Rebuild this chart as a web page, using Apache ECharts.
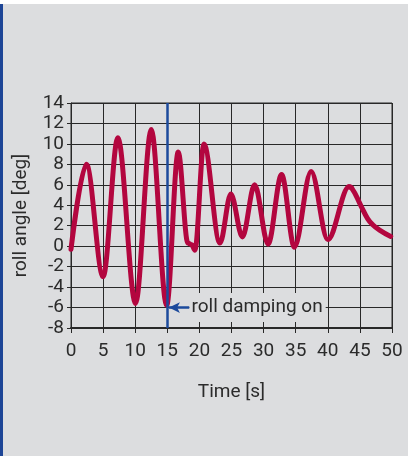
<!DOCTYPE html>
<html>
<head>
<meta charset="utf-8">
<script src="https://cdn.jsdelivr.net/npm/echarts@6/dist/echarts.min.js"></script>
<style>
  html, body { margin: 0; padding: 0; background: #ffffff; width: 409px; height: 456px; overflow: hidden; }
  #panel { position: absolute; left: 0; top: 4px; width: 405px; height: 452px; background: #dcdddf; border-left: 3px solid #1d4596; }
  #chart { position: absolute; left: 0; top: 0; width: 409px; height: 456px; }
</style>
</head>
<body>
<div id="panel"></div>
<div id="chart"></div>
<script>
// Data
// oscillating part: turning points of the roll trace
const timeS   = [0, 2.4, 5.0, 7.3, 10.05, 12.5, 14.9, 16.7, 18.2, 18.8, 19.3, 20.7, 23.2, 24.9, 26.7, 28.6, 30.7, 32.8, 34.8, 37.4, 40.0, 43.3, 43.7];
const rollDeg = [-0.3, 8.0, -3.0, 10.6, -5.6, 11.4, -5.8, 9.2, 0.3, 0.15, -0.4, 10.0, 0.3, 5.1, 0.9, 6.0, 0.2, 7.0, -0.1, 7.3, 0.65, 5.8, 5.7];
// decaying tail after the last peak
const tailTimeS   = [43.3, 43.7, 45.2, 46.2, 47.0, 48.0, 49.8];
const tailRollDeg = [5.8, 5.7, 3.9, 2.7, 2.1, 1.6, 0.95];
const xTicks = { min: 0, max: 50, step: 5 };
const yTicks = { min: -8, max: 14, step: 2 };
const dampingOnTime = 15;
const annotation = { text: 'roll damping on', y: -6, fromX: 18.45, toX: 15.25 };

const FONT = 'Roboto';
const TXT = '#2b2b2b';
const GRIDC = '#282828';
const CURVE = '#b3063f';

const chart = echarts.init(document.getElementById('chart'), null, { renderer: 'canvas' });
chart.setOption({
  backgroundColor: 'transparent',
  animation: false,
  grid: { left: 71, top: 103, width: 321, height: 225, show: true, borderColor: GRIDC, borderWidth: 1 },
  xAxis: {
    type: 'value', min: xTicks.min, max: xTicks.max, interval: xTicks.step,
    name: 'Time [s]', nameLocation: 'middle', nameGap: 55,
    nameTextStyle: { fontFamily: FONT, fontSize: 19, color: TXT },
    axisLine: { show: true, onZero: false, lineStyle: { color: GRIDC, width: 2 } },
    axisTick: { show: true, inside: false, length: 5, lineStyle: { color: GRIDC, width: 1 } },
    axisLabel: { margin: 14, fontFamily: FONT, fontSize: 19, color: TXT },
    splitLine: { show: true, lineStyle: { color: GRIDC, width: 1 } }
  },
  yAxis: {
    type: 'value', min: yTicks.min, max: yTicks.max, interval: yTicks.step,
    name: 'roll angle [deg]', nameLocation: 'middle', nameGap: 40,
    nameTextStyle: { fontFamily: FONT, fontSize: 19, color: TXT },
    axisLine: { show: true, lineStyle: { color: GRIDC, width: 1 } },
    axisTick: { show: true, inside: false, length: 4, lineStyle: { color: GRIDC, width: 1 } },
    axisLabel: { margin: 7, fontFamily: FONT, fontSize: 19, color: TXT },
    splitLine: { show: true, lineStyle: { color: GRIDC, width: 1 } }
  },
  series: [{
    type: 'line',
    data: timeS.map((t, i) => [t, rollDeg[i]]),
    smooth: 0.34,
    smoothMonotone: 'x',
    showSymbol: false,
    lineStyle: { color: CURVE, width: 5, cap: 'round', join: 'round' },
    z: 3,
    markLine: {
      silent: true,
      animation: false,
      label: { show: false },
      data: [
        [ { coord: [dampingOnTime, yTicks.min], symbol: 'none' }, { coord: [dampingOnTime, yTicks.max], symbol: 'none' } ],
        [ { coord: [annotation.fromX, annotation.y], symbol: 'none' }, { coord: [annotation.toX, annotation.y], symbol: 'arrow', symbolSize: [8, 11] } ]
      ],
      lineStyle: { color: '#1c4a9c', width: 2.5, type: 'solid' }
    },
    markPoint: {
      silent: true,
      animation: false,
      symbol: 'rect',
      symbolSize: 0,
      data: [{ coord: [annotation.fromX, annotation.y] }],
      label: {
        show: true, position: 'right', distance: 0,
        formatter: annotation.text,
        fontFamily: FONT, fontSize: 19, color: TXT,
        backgroundColor: '#dcdddf', padding: [5, 3, 5, 2]
      }
    }
  }, {
    type: 'line',
    data: tailTimeS.map((t, i) => [t, tailRollDeg[i]]),
    smooth: 0.5,
    showSymbol: false,
    lineStyle: { color: CURVE, width: 5, cap: 'round', join: 'round' },
    z: 3
  }]
});
</script>
</body>
</html>
